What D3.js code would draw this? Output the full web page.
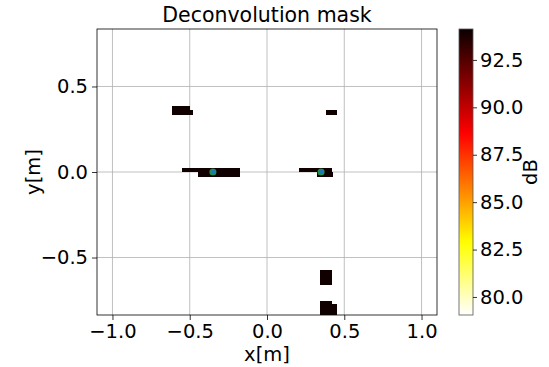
<!DOCTYPE html>
<html>
<head>
<meta charset="utf-8">
<script src="https://cdn.jsdelivr.net/npm/d3@7"></script>
<style>
  body { margin: 0; background: #fff; }
  svg { font-family: "DejaVu Sans", sans-serif; }
</style>
</head>
<body>
<div id="chart"></div>
<script>
// Deconvolution mask heat map

// mask cells, in metres (x0, x1, y0, y1) with their level in dB
var cellX0 = [-0.617, -0.500, -0.552, -0.449, 0.205, 0.325, 0.380, 0.341, 0.341, 0.419];
var cellX1 = [-0.500, -0.481, -0.172, -0.172, 0.420, 0.430, 0.450, 0.419, 0.419, 0.450];
var cellY0 = [0.333, 0.333, 0.000, -0.029, 0.000, -0.029, 0.333, -0.661, -0.840, -0.840];
var cellY1 = [0.386, 0.363, 0.023, 0.000, 0.023, 0.000, 0.363, -0.573, -0.754, -0.772];
var cellDb = [94.0, 94.0, 94.0, 94.0, 94.0, 94.0, 94.0, 94.0, 94.0, 94.0];

// source positions
var srcX = [-0.35, 0.35];
var srcY = [0.0, 0.0];

var xTicks = [-1.0, -0.5, 0.0, 0.5, 1.0];
var yTicks = [-0.5, 0.0, 0.5];
var cbTicks = [80.0, 82.5, 85.0, 87.5, 90.0, 92.5];
var dbRange = [79.05, 94.13];

var svgWidth = 549, svgHeight = 367;
var plot = {left: 97, right: 437, top: 29, bottom: 315};
var cb = {left: 459, right: 473};

var svg = d3.select("#chart").append("svg")
    .attr("width", svgWidth)
    .attr("height", svgHeight);

var xScale = d3.scaleLinear().domain([-1.1, 1.1]).range([plot.left, plot.right]);
var yScale = d3.scaleLinear().domain([-0.836, 0.836]).range([plot.bottom, plot.top]);
var cScale = d3.scaleLinear().domain(dbRange).range([plot.bottom, plot.top]);

// matplotlib "hot", used reversed
function hot(t) {
    var r = t < 0.365079 ? 0.0416 + (1 - 0.0416) * t / 0.365079 : 1;
    var g = t < 0.365079 ? 0 : (t < 0.746032 ? (t - 0.365079) / (0.746032 - 0.365079) : 1);
    var b = t < 0.746032 ? 0 : (t - 0.746032) / (1 - 0.746032);
    return d3.rgb(r * 255, g * 255, b * 255);
}
function hotR(v) {
    var t = (v - dbRange[0]) / (dbRange[1] - dbRange[0]);
    t = Math.max(0, Math.min(1, t));
    return hot(1 - t);
}

var defs = svg.append("defs");
defs.append("clipPath").attr("id", "plotClip")
    .append("rect")
    .attr("x", plot.left).attr("y", plot.top)
    .attr("width", plot.right - plot.left).attr("height", plot.bottom - plot.top);

// grid
var grid = svg.append("g").attr("class", "grid");
grid.selectAll(".gx").data(xTicks).enter().append("line")
    .attr("x1", d => xScale(d)).attr("x2", d => xScale(d))
    .attr("y1", plot.top).attr("y2", plot.bottom)
    .attr("stroke", "#b0b0b0").attr("stroke-width", 0.8);
grid.selectAll(".gy").data(yTicks).enter().append("line")
    .attr("x1", plot.left).attr("x2", plot.right)
    .attr("y1", d => yScale(d)).attr("y2", d => yScale(d))
    .attr("stroke", "#b0b0b0").attr("stroke-width", 0.8);

// mask cells
var cells = cellDb.map((v, i) => ({x0: cellX0[i], x1: cellX1[i], y0: cellY0[i], y1: cellY1[i], v: v}));
svg.append("g").attr("clip-path", "url(#plotClip)")
    .selectAll("rect").data(cells).enter().append("rect")
    .attr("x", d => xScale(d.x0))
    .attr("y", d => yScale(d.y1))
    .attr("width", d => xScale(d.x1) - xScale(d.x0))
    .attr("height", d => yScale(d.y0) - yScale(d.y1))
    .attr("fill", d => hotR(d.v))
    .attr("shape-rendering", "crispEdges");

// sources
svg.append("g").selectAll("circle").data(srcX).enter().append("circle")
    .attr("cx", d => xScale(d))
    .attr("cy", (d, i) => yScale(srcY[i]))
    .attr("r", 3)
    .attr("fill", "#1f77b4")
    .attr("stroke", "#2ca02c")
    .attr("stroke-width", 1.2)
    .attr("stroke-opacity", 0.8);

// axes
var xAxis = d3.axisBottom(xScale).tickValues(xTicks).tickSize(5).tickPadding(4)
    .tickFormat(d => d3.format(".1f")(d).replace("-", "\u2212"));
var yAxis = d3.axisLeft(yScale).tickValues(yTicks).tickSize(5).tickPadding(4)
    .tickFormat(d => d3.format(".1f")(d).replace("-", "\u2212"));

var gx = svg.append("g").attr("transform", "translate(0," + plot.bottom + ")").call(xAxis);
var gy = svg.append("g").attr("transform", "translate(" + plot.left + ",0)").call(yAxis);
[gx, gy].forEach(g => {
    g.select(".domain").remove();
    g.selectAll("text").attr("font-size", "19.5px").attr("fill", "#000")
        .attr("font-family", "DejaVu Sans");
    g.selectAll(".tick line").attr("stroke", "#000").attr("stroke-width", 0.8);
});

// frame
svg.append("rect")
    .attr("x", plot.left).attr("y", plot.top)
    .attr("width", plot.right - plot.left).attr("height", plot.bottom - plot.top)
    .attr("fill", "none").attr("stroke", "#000").attr("stroke-width", 0.8);

// labels
svg.append("text")
    .attr("x", (plot.left + plot.right) / 2).attr("y", 22)
    .attr("text-anchor", "middle").attr("font-size", "20.5px")
    .text("Deconvolution mask");
svg.append("text")
    .attr("x", (plot.left + plot.right) / 2).attr("y", 361)
    .attr("text-anchor", "middle").attr("font-size", "19.5px")
    .text("x[m]");
svg.append("text")
    .attr("transform", "translate(40," + ((plot.top + plot.bottom) / 2) + ") rotate(-90)")
    .attr("text-anchor", "middle").attr("font-size", "19.5px")
    .text("y[m]");

// colorbar
var grad = defs.append("linearGradient").attr("id", "cbGrad")
    .attr("x1", 0).attr("y1", 1).attr("x2", 0).attr("y2", 0);
d3.range(0, 1.0001, 0.02).forEach(t => {
    grad.append("stop").attr("offset", t)
        .attr("stop-color", hotR(dbRange[0] + t * (dbRange[1] - dbRange[0])));
});
svg.append("rect")
    .attr("x", cb.left).attr("y", plot.top)
    .attr("width", cb.right - cb.left).attr("height", plot.bottom - plot.top)
    .attr("fill", "url(#cbGrad)")
    .attr("stroke", "#555").attr("stroke-width", 0.8);

var cbAxis = d3.axisRight(cScale).tickValues(cbTicks).tickSize(4).tickPadding(3)
    .tickFormat(d3.format(".1f"));
var gc = svg.append("g").attr("transform", "translate(" + cb.right + ",0)").call(cbAxis);
gc.select(".domain").remove();
gc.selectAll("text").attr("font-size", "19.5px").attr("fill", "#000")
    .attr("font-family", "DejaVu Sans");
gc.selectAll(".tick line").attr("stroke", "#000").attr("stroke-width", 0.8);

svg.append("text")
    .attr("transform", "translate(537," + ((plot.top + plot.bottom) / 2) + ") rotate(-90)")
    .attr("text-anchor", "middle").attr("font-size", "19.5px")
    .text("dB");
</script>
</body>
</html>
